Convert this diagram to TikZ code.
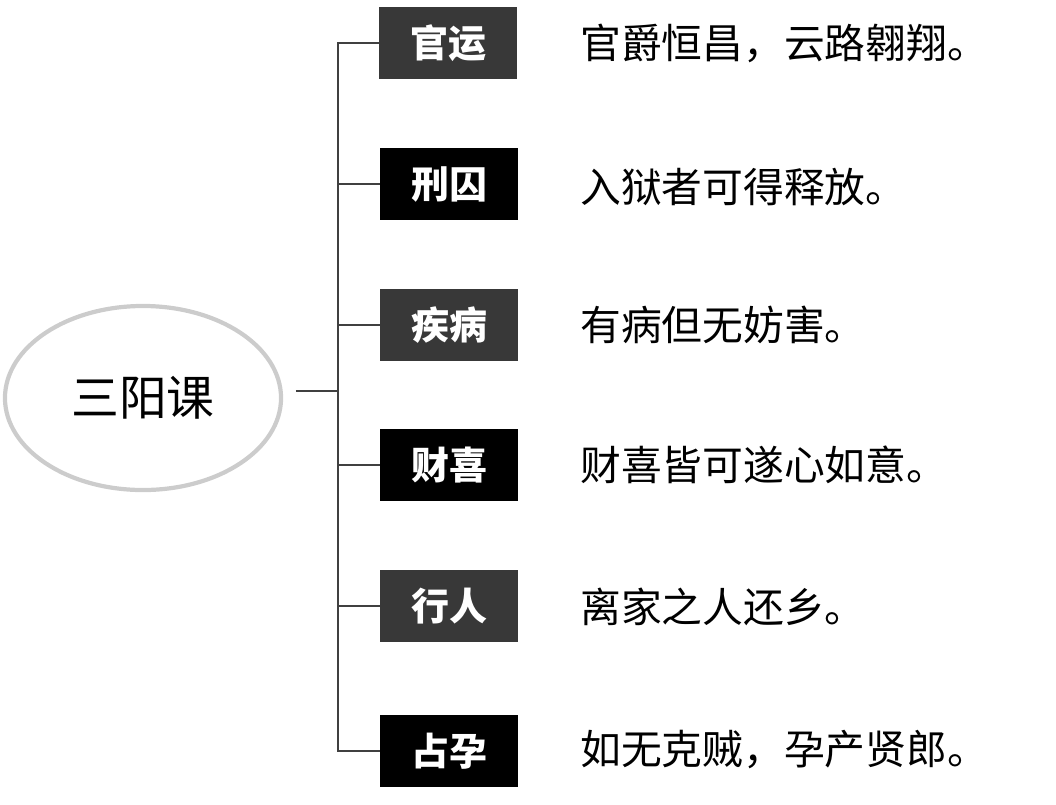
\documentclass[tikz,border=0pt]{standalone}
\usepackage{fontspec}
\newfontfamily\cjk{Noto Sans CJK SC}
\usetikzlibrary{shapes.geometric}
\definecolor{BoxGray}{rgb}{0.22,0.22,0.22}
\definecolor{LineClr}{rgb}{0.25,0.25,0.25}

\begin{document}
\begin{tikzpicture}[x=0.025cm,y=-0.025cm,
  tagbox/.style={fill=black,text=white,minimum width=3.45cm,minimum height=1.8cm,inner sep=0pt,font=\cjk\bfseries\fontsize{27}{27}\selectfont},
  tagboxgray/.style={tagbox,fill=BoxGray},
  note/.style={anchor=west,inner sep=0pt,font=\cjk\fontsize{29}{29}\selectfont},
  conn/.style={draw=LineClr,line width=1.5pt}]
\useasboundingbox (0,0) rectangle (1056,804);

\node[ellipse,draw=black!20,line width=3pt,minimum width=6.9cm,minimum height=4.6cm,font=\cjk\fontsize{34}{34}\selectfont] (sanyang) at (143,398) {三阳课};

\coordinate (fork) at (338,391);

\node[tagboxgray] (guan) at (448,43) {官运};
\node[tagbox] (xing) at (449,184) {刑囚};
\node[tagboxgray] (ji) at (449,325) {疾病};
\node[tagbox] (cai) at (449,465) {财喜};
\node[tagboxgray] (hang) at (449,606) {行人};
\node[tagbox] (zhan) at (449,751) {占孕};

\node[note] (guantxt) at (580,43) {官爵恒昌，云路翱翔。};
\node[note] (xingtxt) at (580,187) {入狱者可得释放。};
\node[note] (jitxt) at (580,325) {有病但无妨害。};
\node[note] (caitxt) at (580,465) {财喜皆可遂心如意。};
\node[note] (hangtxt) at (580,607) {离家之人还乡。};
\node[note] (zhantxt) at (580,750) {如无克贼，孕产贤郎。};

\draw[conn,shorten <=9pt] (sanyang.east |- fork) -- (fork);
\draw[conn] (fork) |- (guan.west);
\draw[conn] (fork) |- (xing.west);
\draw[conn] (fork) |- (ji.west);
\draw[conn] (fork) |- (cai.west);
\draw[conn] (fork) |- (hang.west);
\draw[conn] (fork) |- (zhan.west);

\end{tikzpicture}
\end{document}
